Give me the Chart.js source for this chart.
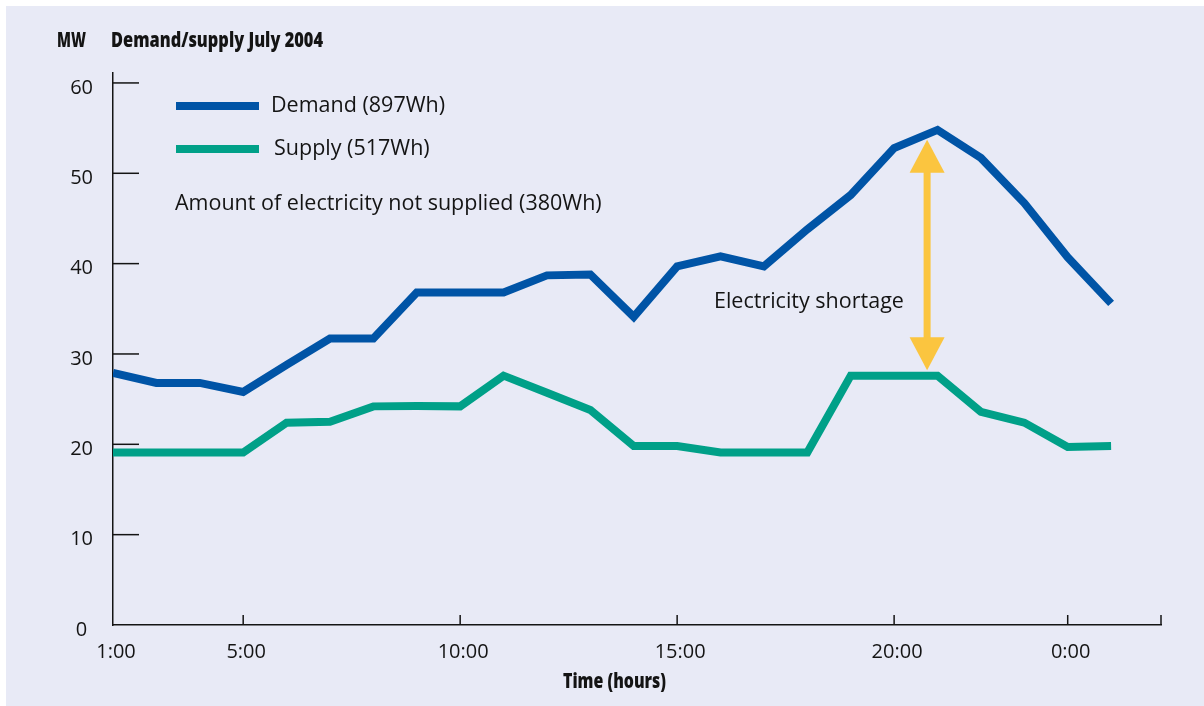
<!DOCTYPE html>
<html>
<head>
<meta charset="utf-8">
<script src="https://cdn.jsdelivr.net/npm/chart.js@4"></script>
<style>
  body { margin: 0; background: #ffffff; }
  #wrap { position: absolute; left: 0; top: 0; width: 1204px; height: 706px; }
</style>
</head>
<body>
<div id="wrap"><canvas id="chart" width="1204" height="706"></canvas></div>
<script>
// hour positions of the samples (axis starts at the "1:00" mark)
const hours = [2, 3, 4, 5, 6, 7, 8, 9, 10, 11, 12, 13, 14, 15, 16, 17, 18, 19, 20, 21, 22, 23, 24, 25];
const demand = [27.9, 26.8, 26.8, 25.8, 28.8, 31.7, 31.7, 36.8, 36.8, 36.8, 38.7, 38.8, 34.1, 39.7, 40.8, 39.7, 43.8, 47.6, 52.8, 54.8, 51.7, 46.7, 40.7, 35.6];
const supply = [19.1, 19.1, 19.1, 19.1, 22.4, 22.5, 24.2, 24.25, 24.2, 27.6, 25.7, 23.8, 19.8, 19.8, 19.1, 19.1, 19.1, 27.6, 27.6, 27.6, 23.6, 22.4, 19.7, 19.8];

const xTickValues = [2, 5, 10, 15, 20, 24, 26.15];
const xTickLabels = ['1:00', '5:00', '10:00', '15:00', '20:00', '0:00', ''];
const yTickValues = [0, 10, 20, 30, 40, 50, 60];

// shortage arrow, in data units
const arrowHour = 20.76;
const arrowTop = 53.7;
const arrowBottom = 28.2;

const BG = '#e8eaf6';
const BLUE = '#0054a6';
const TEAL = '#00a088';
const YELLOW = '#fbc53f';
const INK = '#141414';
const FONT = '"Open Sans", "Noto Sans", sans-serif';

function condensedText(ctx, text, x, y, size, width) {
    ctx.save();
    ctx.font = '800 ' + size + 'px ' + FONT;
    const w = ctx.measureText(text).width;
    ctx.translate(x, y);
    ctx.scale(width / w, 1);
    ctx.textAlign = 'left';
    ctx.textBaseline = 'alphabetic';
    ctx.fillText(text, 0, 0);
    ctx.restore();
}

const decor = {
    id: 'decor',
    beforeDraw(chart) {
        const ctx = chart.ctx;
        ctx.save();
        ctx.fillStyle = BG;
        ctx.fillRect(6, 6, chart.width - 6, chart.height - 6);
        ctx.restore();
    },
    afterDraw(chart) {
        const ctx = chart.ctx;
        const xs = chart.scales.x, ys = chart.scales.y;
        const area = chart.chartArea;
        ctx.save();

        // inward tick marks
        ctx.strokeStyle = INK;
        ctx.lineWidth = 1.5;
        xTickValues.slice(1).forEach(v => {
            const px = xs.getPixelForValue(v);
            ctx.beginPath();
            ctx.moveTo(px, area.bottom);
            ctx.lineTo(px, area.bottom - 10);
            ctx.stroke();
        });
        yTickValues.slice(1).forEach(v => {
            const py = ys.getPixelForValue(v);
            ctx.beginPath();
            ctx.moveTo(area.left, py);
            ctx.lineTo(area.left + 26, py);
            ctx.stroke();
        });

        // double arrow
        const ax = xs.getPixelForValue(arrowHour);
        const at = ys.getPixelForValue(arrowTop);
        const ab = ys.getPixelForValue(arrowBottom);
        const head = 33, half = 17.5;
        ctx.fillStyle = YELLOW;
        ctx.fillRect(ax - 3.5, at + head - 1, 7, ab - at - 2 * head + 2);
        ctx.beginPath();
        ctx.moveTo(ax, at);
        ctx.lineTo(ax + half, at + head);
        ctx.lineTo(ax - half, at + head);
        ctx.closePath();
        ctx.fill();
        ctx.beginPath();
        ctx.moveTo(ax, ab);
        ctx.lineTo(ax + half, ab - head);
        ctx.lineTo(ax - half, ab - head);
        ctx.closePath();
        ctx.fill();

        // legend
        ctx.lineWidth = 8;
        ctx.strokeStyle = BLUE;
        ctx.beginPath(); ctx.moveTo(176, 106); ctx.lineTo(259, 106); ctx.stroke();
        ctx.strokeStyle = TEAL;
        ctx.beginPath(); ctx.moveTo(176, 149); ctx.lineTo(259, 149); ctx.stroke();

        ctx.fillStyle = INK;
        ctx.textBaseline = 'alphabetic';
        ctx.textAlign = 'left';
        ctx.font = '21.5px ' + FONT;
        ctx.fillText('Demand (897Wh)', 271, 112);
        ctx.fillText('Supply (517Wh)', 274, 155);
        ctx.fillText('Amount of electricity not supplied (380Wh)', 175, 210);
        ctx.fillText('Electricity shortage', 714, 308);

        // titles
        condensedText(ctx, 'MW', 57, 47, 20.5, 29);
        condensedText(ctx, 'Demand/supply July 2004', 111, 47, 20.5, 212);
        condensedText(ctx, 'Time (hours)', 563, 688, 21, 103);
        ctx.restore();
    }
};

new Chart(document.getElementById('chart'), {
    type: 'line',
    data: {
        datasets: [
            {
                label: 'Demand (897Wh)',
                data: hours.map((h, i) => ({ x: h, y: demand[i] })),
                borderColor: BLUE,
                borderWidth: 8,
                pointRadius: 0,
                tension: 0,
                borderJoinStyle: 'miter',
                borderCapStyle: 'butt'
            },
            {
                label: 'Supply (517Wh)',
                data: hours.map((h, i) => ({ x: h, y: supply[i] })),
                borderColor: TEAL,
                borderWidth: 8,
                pointRadius: 0,
                tension: 0,
                borderJoinStyle: 'miter',
                borderCapStyle: 'butt'
            }
        ]
    },
    options: {
        responsive: false,
        animation: false,
        devicePixelRatio: 1,
        layout: { padding: { top: 73, right: 43, left: 0, bottom: 0 } },
        plugins: { legend: { display: false }, tooltip: { enabled: false } },
        scales: {
            x: {
                type: 'linear',
                min: 2,
                max: 26.15,
                afterBuildTicks: sc => { sc.ticks = xTickValues.map(v => ({ value: v })); },
                afterFit: sc => { sc.height = 81; },
                grid: { display: false, drawTicks: false },
                border: { color: INK, width: 1.5 },
                ticks: {
                    autoSkip: false,
                    maxRotation: 0,
                    padding: 15,
                    labelOffset: 3,
                    color: INK,
                    font: { family: FONT, size: 20 },
                    callback: (v, i) => xTickLabels[i]
                }
            },
            y: {
                min: 0,
                max: 61.1,
                afterBuildTicks: sc => { sc.ticks = yTickValues.map(v => ({ value: v })); },
                afterFit: sc => { sc.width = 113; },
                grid: { display: false, drawTicks: false },
                border: { color: INK, width: 1.5 },
                ticks: {
                    crossAlign: 'center',
                    padding: 20,
                    labelOffset: 5,
                    color: INK,
                    font: { family: FONT, size: 20 }
                }
            }
        }
    },
    plugins: [decor]
});
</script>
</body>
</html>
